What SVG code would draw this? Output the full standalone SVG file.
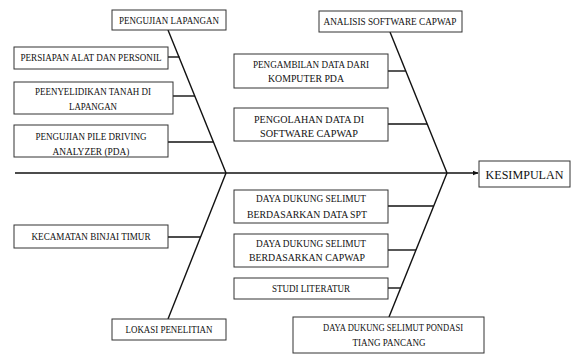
<svg xmlns="http://www.w3.org/2000/svg" width="574" height="356" viewBox="0 0 574 356" font-family="Liberation Serif, Times New Roman, serif">
<defs>
<style>
.box{fill:#fff;stroke:#333;stroke-width:1}
.ln{stroke:#111;stroke-width:1.4;fill:none}
text{font-size:10.5px;fill:#111;text-anchor:middle}
.big{font-size:13px}
</style>
<marker id="arr" viewBox="0 0 10 10" refX="9" refY="5" markerWidth="6" markerHeight="6" markerUnits="userSpaceOnUse" orient="auto">
<path d="M0,1 L10,5 L0,9 z" fill="#111"/>
</marker>
</defs>
<rect width="574" height="356" fill="#fff"/>
<g id="connectors">
<line class="ln" x1="15" y1="173" x2="478" y2="173" marker-end="url(#arr)"/>
<line class="ln" x1="168" y1="30" x2="226" y2="173"/>
<line class="ln" x1="226" y1="173" x2="168" y2="319"/>
<line class="ln" x1="390" y1="32" x2="447" y2="173"/>
<line class="ln" x1="447" y1="173" x2="389" y2="317"/>
<line class="ln" x1="168" y1="57" x2="179.5" y2="57"/>
<line class="ln" x1="173" y1="96" x2="195" y2="96"/>
<line class="ln" x1="168" y1="142" x2="213.5" y2="142"/>
<line class="ln" x1="168" y1="237" x2="200.5" y2="237"/>
<line class="ln" x1="388" y1="71" x2="405.7" y2="71"/>
<line class="ln" x1="388" y1="124" x2="427" y2="124"/>
<line class="ln" x1="388" y1="206" x2="433.7" y2="206"/>
<line class="ln" x1="388" y1="250" x2="416" y2="250"/>
<line class="ln" x1="388" y1="288" x2="400.7" y2="288"/>
</g>
<g id="pengujian-lapangan"><rect class="box" x="112" y="10" width="114" height="20"/><text x="169" y="24" textLength="100" lengthAdjust="spacingAndGlyphs">PENGUJIAN LAPANGAN</text></g>
<g id="persiapan"><rect class="box" x="14" y="47" width="154" height="22"/><text x="91" y="61" textLength="141" lengthAdjust="spacingAndGlyphs">PERSIAPAN ALAT DAN PERSONIL</text></g>
<g id="penyelidikan"><rect class="box" x="14" y="82" width="159" height="32"/><text x="93" y="95" textLength="116" lengthAdjust="spacingAndGlyphs">PEENYELIDIKAN TANAH DI</text><text x="93" y="110" textLength="48" lengthAdjust="spacingAndGlyphs">LAPANGAN</text></g>
<g id="pda"><rect class="box" x="14" y="125" width="154" height="32"/><text x="91" y="140" textLength="111" lengthAdjust="spacingAndGlyphs">PENGUJIAN PILE DRIVING</text><text x="91" y="155" textLength="77" lengthAdjust="spacingAndGlyphs">ANALYZER (PDA)</text></g>
<g id="kecamatan"><rect class="box" x="14" y="225" width="154" height="23"/><text x="91" y="240" textLength="119" lengthAdjust="spacingAndGlyphs">KECAMATAN BINJAI TIMUR</text></g>
<g id="lokasi"><rect class="box" x="112" y="319" width="114" height="21"/><text x="169" y="333" textLength="87" lengthAdjust="spacingAndGlyphs">LOKASI PENELITIAN</text></g>
<g id="analisis"><rect class="box" x="319" y="11" width="143" height="21"/><text x="390" y="25" textLength="133" lengthAdjust="spacingAndGlyphs">ANALISIS SOFTWARE CAPWAP</text></g>
<g id="pengambilan"><rect class="box" x="234" y="54" width="154" height="34"/><text x="311" y="68" textLength="116" lengthAdjust="spacingAndGlyphs">PENGAMBILAN DATA DARI</text><text x="306" y="82" textLength="76" lengthAdjust="spacingAndGlyphs">KOMPUTER PDA</text></g>
<g id="pengolahan"><rect class="box" x="234" y="108" width="154" height="33"/><text x="309" y="123" textLength="110" lengthAdjust="spacingAndGlyphs">PENGOLAHAN DATA DI</text><text x="309" y="137" textLength="98" lengthAdjust="spacingAndGlyphs">SOFTWARE CAPWAP</text></g>
<g id="kesimpulan"><rect class="box" x="479" y="161" width="91" height="26"/><text class="big" x="524.5" y="179" textLength="78" lengthAdjust="spacingAndGlyphs">KESIMPULAN</text></g>
<g id="spt"><rect class="box" x="234" y="190" width="154" height="33"/><text x="311" y="202" textLength="110" lengthAdjust="spacingAndGlyphs">DAYA DUKUNG SELIMUT</text><text x="307" y="218" textLength="120" lengthAdjust="spacingAndGlyphs">BERDASARKAN DATA SPT</text></g>
<g id="capwap"><rect class="box" x="234" y="234" width="154" height="33"/><text x="311" y="247" textLength="110" lengthAdjust="spacingAndGlyphs">DAYA DUKUNG SELIMUT</text><text x="307" y="261" textLength="116" lengthAdjust="spacingAndGlyphs">BERDASARKAN CAPWAP</text></g>
<g id="studi"><rect class="box" x="234" y="278" width="154" height="21"/><text x="311" y="292" textLength="78" lengthAdjust="spacingAndGlyphs">STUDI LITERATUR</text></g>
<g id="pondasi"><rect class="box" x="293" y="317" width="191" height="36"/><text x="393" y="331" textLength="140" lengthAdjust="spacingAndGlyphs">DAYA DUKUNG SELIMUT PONDASI</text><text x="389" y="346" textLength="73" lengthAdjust="spacingAndGlyphs">TIANG PANCANG</text></g>
</svg>
